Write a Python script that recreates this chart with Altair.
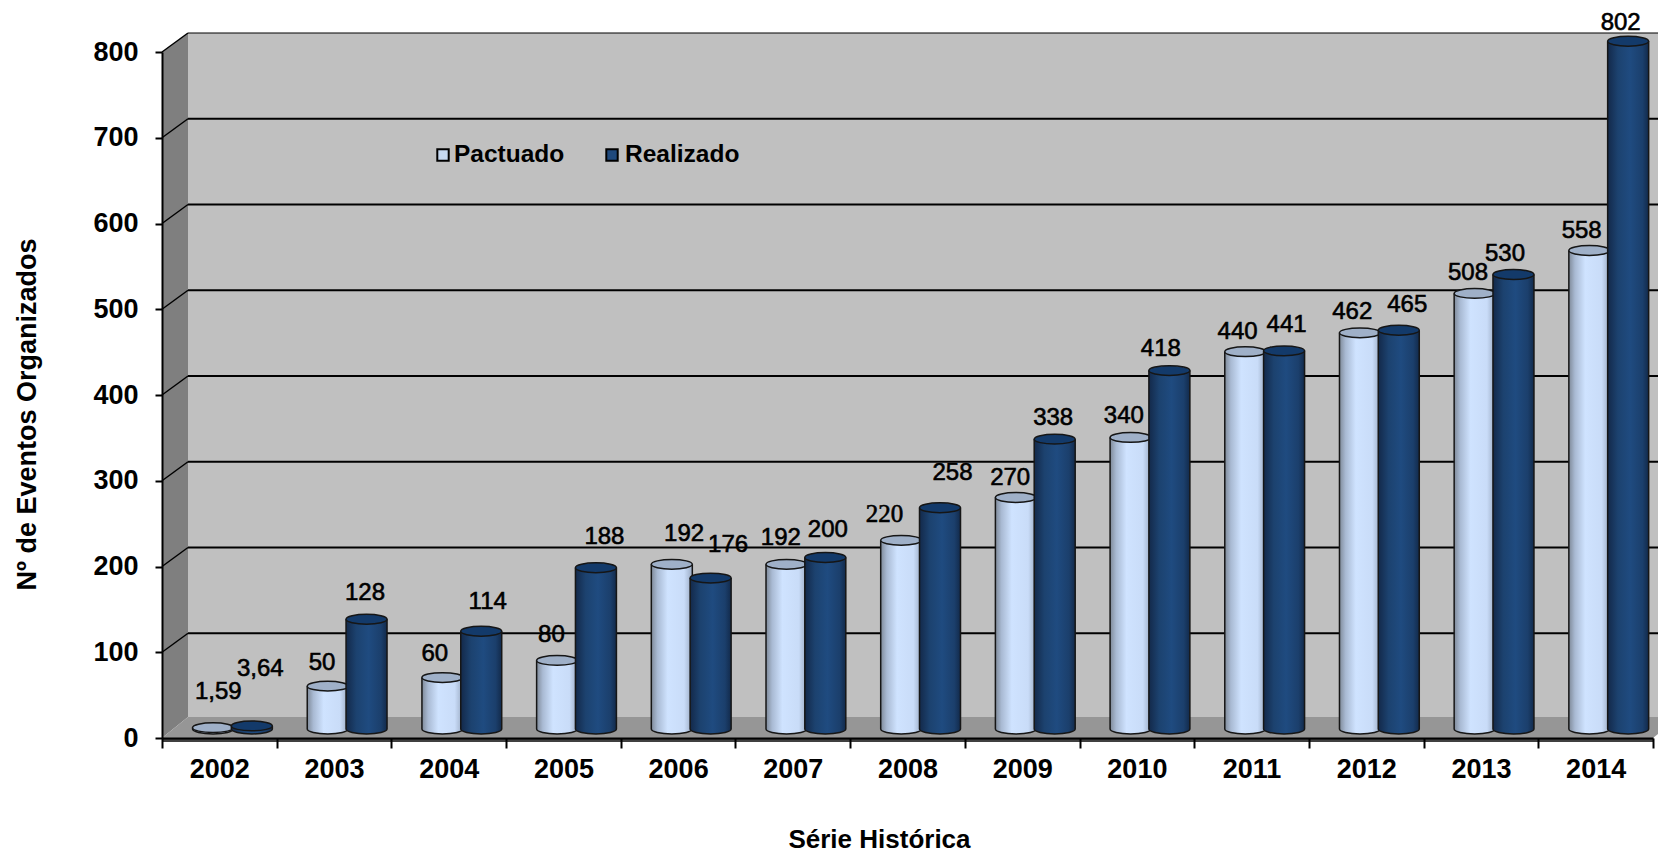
import altair as alt
import pandas as pd

years = ["2002","2003","2004","2005","2006","2007","2008","2009","2010","2011","2012","2013","2014"]
pactuado = [1.59,50,60,80,192,192,220,270,340,440,462,508,558]
realizado = [3.64,128,114,188,176,200,258,338,418,441,465,530,802]
pactuado_labels = ["1,59","50","60","80","192","192","220","270","340","440","462","508","558"]
realizado_labels = ["3,64","128","114","188","176","200","258","338","418","441","465","530","802"]
# label nudges in px relative to (year centre, value)
p_dx = [-1,-12,-14,-12,6,-12,-23,-12,-13,-14,-14,-13,-14]
p_dy = [-45,-32,-33,-34,-39,-35,-35,-28,-30,-29,-30,-29,-29]
r_dx = [41,31,39,41,50,35,45,31,24,35,41,24,25]
r_dy = [-66,-35,-38,-40,-42,-37,-44,-30,-31,-35,-34,-30,-27]
grid_values = [100,200,300,400,500,600,700]

W, H = 1491, 686
DX_PX, DY_PX = 26, 19
PX_X = 13 / W
PX_Y = 800 / H
FONT = "Liberation Sans"

df = pd.DataFrame({"year": years, "p": pactuado, "r": realizado, "base": 0})

def label_frame(vals, texts, dxs, dys):
    return pd.DataFrame({
        "lx": [i + 0.5 + dx * PX_X for i, dx in enumerate(dxs)],
        "ly": [v - dy * PX_Y for v, dy in zip(vals, dys)],
        "t": texts,
    })

labels_df = pd.concat([label_frame(pactuado, pactuado_labels, p_dx, p_dy),
                       label_frame(realizado, realizado_labels, r_dx, r_dy)], ignore_index=True)

yscale = alt.Scale(domain=[0, 800], nice=False)
xline = alt.Scale(domain=[0, 13], nice=False, zero=False)
d = DX_PX * PX_X
e = DY_PX * PX_Y
f = 21 * PX_Y

def area(points, color):
    t = pd.DataFrame(points, columns=["x", "top", "bot"])
    return alt.Chart(t).mark_area(color=color, opacity=1).encode(
        x=alt.X("x:Q", scale=xline, axis=None),
        y=alt.Y("top:Q", scale=yscale, axis=None),
        y2="bot:Q",
    )

back = area([(d, 800 + e, f), (13.5, 800 + e, f)], "#c0c0c0")
left = area([(0, 800, 0), (d, 800 + e, f)], "#7f7f7f")
floor = area([(0, 0, 0), (d, f, 0), (13, f, 0), (13 + d, f, f), (13.5, f, f)], "#969696")

grid_df = pd.DataFrame({"v": grid_values + [800], "w": [v + e for v in grid_values + [800]]})
grid_main = alt.Chart(grid_df[grid_df.v < 800]).mark_rule(color="#000", strokeWidth=2, yOffset=-DY_PX).encode(
    x=alt.value(DX_PX), x2=alt.value(W + 40), y=alt.Y("v:Q", scale=yscale, axis=None))
grid_top = alt.Chart(grid_df[grid_df.v == 800]).mark_rule(color="#000", strokeWidth=1, yOffset=-DY_PX).encode(
    x=alt.value(DX_PX), x2=alt.value(W + 40), y=alt.Y("v:Q", scale=yscale, axis=None))
diag = alt.Chart(grid_df).mark_rule(color="#000", strokeWidth=1.5).encode(
    x=alt.value(0), x2=alt.value(DX_PX), y=alt.Y("v:Q", scale=yscale, axis=None), y2="w:Q")
strip = alt.Chart(df.head(1)).mark_rect(color="#404040").encode(
    x=alt.value(0), x2=alt.value(W), y=alt.value(H), y2=alt.value(H + 4))

xband = alt.Scale(domain=years, paddingInner=0, paddingOuter=0)
xaxis = alt.Axis(title="Série Histórica", titleFont=FONT, titleFontSize=26, titleFontWeight="bold", titleColor="#000",
                 titleX=717, titleY=101, titleBaseline="middle", labelFont=FONT, labelFontSize=27, labelFontWeight="bold", labelColor="#000",
                 labelAngle=0, labelPadding=8, tickBand="extent", tickSize=10, tickWidth=2, tickColor="#000",
                 domain=True, domainColor="#000", domainWidth=2, grid=False, zindex=1)
yaxis = alt.Axis(title="Nº de Eventos Organizados", titleFont=FONT, titleFontSize=27, titleFontWeight="bold",
                 titleColor="#000", titleX=-135, titleY=362, titleAngle=-90, titleBaseline="middle",
                 values=[0,100,200,300,400,500,600,700,800], labelFont=FONT, labelFontSize=27, labelFontWeight="bold",
                 labelColor="#000", labelPadding=17, tickSize=7, tickWidth=2, tickColor="#000",
                 domain=True, domainColor="#000", domainWidth=2, grid=False, zindex=1)

axes_layer = alt.Chart(df).mark_point(opacity=0).encode(
    x=alt.X("year:N", scale=xband, axis=xaxis, sort=years),
    y=alt.Y("base:Q", scale=yscale, axis=yaxis),
)

def grad(stops):
    return alt.LinearGradient(gradient="linear", x1=0, x2=1, y1=0, y2=0,
                              stops=[alt.GradientStop(offset=o, color=c) for o, c in stops])

light_body = grad([(0, "#7f8a99"), (0.15, "#a9bad3"), (0.4, "#cfe3ff"), (0.8, "#c9dcf8"), (1, "#9aaac2")])
dark_body = grad([(0, "#13294a"), (0.25, "#1c426f"), (0.55, "#1f4b80"), (0.85, "#1b3f6c"), (1, "#122a4b")])

BW = 41
SIZE = BW ** 2
LIFT = -9
ELL = "M-1,0A1,0.24,0,1,1,1,0A1,0.24,0,1,1,-1,0Z"
HALF = "M-1,0A1,0.24,0,0,0,1,0"
EDGE = "#161616"

def cylinder(field, xoff, body, cap):
    X = alt.X("year:N", scale=xband, sort=years, axis=None)
    Y = alt.Y(f"{field}:Q", scale=yscale, axis=None, stack=None)
    Yb = alt.Y("base:Q", scale=yscale, axis=None, stack=None)
    b = alt.Chart(df).mark_bar(size=BW, xOffset=xoff, yOffset=LIFT, y2Offset=LIFT, fill=body, opacity=1).encode(
        x=X, y=Y, y2="base:Q")
    sides = [alt.Chart(df).mark_rule(color=EDGE, strokeWidth=1.5, xOffset=xoff + s, yOffset=LIFT, y2Offset=LIFT).encode(
        x=X, y=Y, y2="base:Q") for s in (-BW / 2, BW / 2)]
    bottom = alt.Chart(df).mark_point(shape=HALF, size=SIZE, filled=True, fill=body, stroke=EDGE, strokeWidth=1.5,
                                      opacity=1, xOffset=xoff, yOffset=LIFT).encode(x=X, y=Yb)
    top = alt.Chart(df).mark_point(shape=ELL, size=SIZE, filled=True, fill=cap, stroke=EDGE, strokeWidth=1.5,
                                   opacity=1, xOffset=xoff, yOffset=LIFT).encode(x=X, y=Y)
    return [bottom, b] + sides + [top]

def label_layer(frame, font, size, sw):
    return alt.Chart(frame).mark_text(font=font, fontSize=size, color="#000", stroke="#000", strokeWidth=sw,
                                      baseline="middle", align="center").encode(
        x=alt.X("lx:Q", scale=xline, axis=None),
        y=alt.Y("ly:Q", scale=yscale, axis=None),
        text="t:N",
    )

def legend_item(name, color, sx, tx):
    t = pd.DataFrame({"t": [name]})
    sq = alt.Chart(t).mark_square(size=130, fill=color, stroke="#000", strokeWidth=2, opacity=1, filled=True).encode(
        x=alt.value(sx), y=alt.value(103))
    tx_ = alt.Chart(t).mark_text(font=FONT, fontSize=24.5, fontWeight="bold", color="#000", align="left",
                                 baseline="middle").encode(x=alt.value(tx), y=alt.value(103), text="t:N")
    return [sq, tx_]

layers = [back, left, floor, strip, grid_main, grid_top, diag, axes_layer]
layers += cylinder("p", -6.3, light_body, "#9fb0c8")
layers += cylinder("r", 32.5, dark_body, "#133a6a")
layers += [label_layer(labels_df[labels_df.t != "220"], FONT, 24, 0.6),
           label_layer(labels_df[labels_df.t == "220"], "Liberation Serif", 25, 0.6)]
layers += legend_item("Pactuado", "#c6d9f1", 281, 292)
layers += legend_item("Realizado", "#1f497d", 450, 463)

chart = alt.layer(*layers).resolve_scale(x="independent").resolve_axis(y="independent", x="independent").properties(
    width=W, height=H,
    autosize=alt.AutoSizeParams(type="none"),
    padding={"left": 154, "top": 44, "right": 5, "bottom": 114},
).configure_view(stroke=None).configure(background="white")

chart.save("out.html", embed_options={"renderer": "svg", "actions": False})
